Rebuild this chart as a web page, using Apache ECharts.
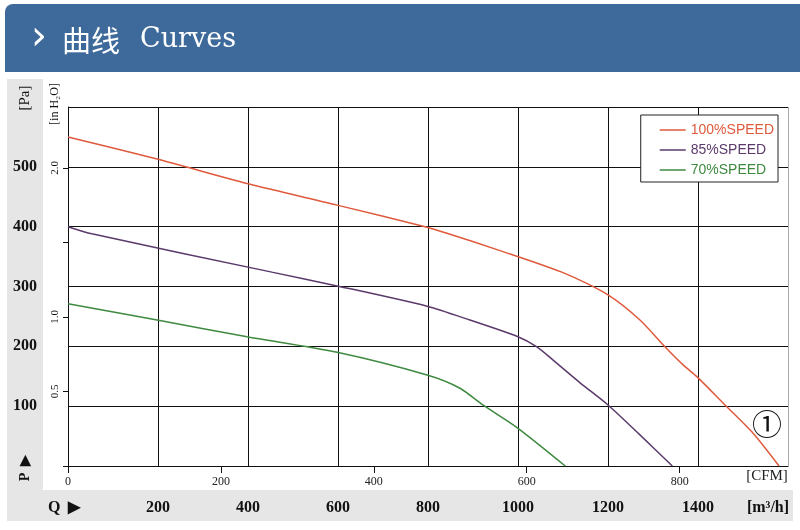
<!DOCTYPE html>
<html>
<head>
<meta charset="utf-8">
<script src="https://cdn.jsdelivr.net/npm/echarts@6/dist/echarts.min.js"></script>
<style>html,body{margin:0;padding:0;background:#fff;}#c{width:800px;height:530px;}</style>
</head>
<body>
<div id="c"></div>
<script>
// Flow in m3/h, pressure in Pa
const q100 = [0, 198, 398, 598, 798, 842, 960, 1104, 1200, 1271, 1327, 1367, 1398, 1460, 1522, 1580];
const p100 = [550, 513, 472, 436, 399, 389, 360, 322, 286, 244, 199, 169, 149, 102, 55, 0];
const q85 = [0, 53, 453, 598, 798, 893, 1000, 1042, 1078, 1138, 1200, 1271, 1343];
const p85 = [400, 388, 324, 301, 267, 244, 216, 199, 177, 139, 102, 52, 0];
const q70 = [0, 198, 398, 598, 798, 871, 922, 1000, 1105];
const p70 = [271, 244, 216, 190, 152, 130, 102, 63, 0];
const seriesNames = ['100%SPEED', '85%SPEED', '70%SPEED'];
const seriesColors = ['#df5a3c', '#5b3a6b', '#3e8a40'];
const CFM_PER_M3H = 1 / 1.69901;
const INH2O_PER_PA = 1 / 249.089;

const chart = echarts.init(document.getElementById('c'));
const zip = (a, b) => a.map((v, i) => [v, b[i]]);
const serif = 'Liberation Serif';
const blk = '#111';

chart.setOption({
  animation: false,
  backgroundColor: '#fff',
  graphic: [
    { type: 'rect', z: -10, shape: { x: 5, y: 4, width: 795, height: 68, r: [8, 0, 0, 0] }, style: { fill: '#3e6a9b' } },
    { type: 'rect', z: -10, shape: { x: 7, y: 79, width: 36, height: 412 }, style: { fill: '#e6e6e6' } },
    { type: 'rect', z: -10, shape: { x: 7, y: 490, width: 786, height: 31 }, style: { fill: '#e6e6e6' } },
    { type: 'text', x: 31, y: 39, style: { text: '›', fill: '#fff', font: '40px "DejaVu Sans"', verticalAlign: 'middle' } },
    { type: 'text', x: 62, y: 41, style: { text: '曲线', fill: '#fff', font: '29px "Noto Sans CJK SC"', verticalAlign: 'middle' } },
    { type: 'text', x: 140, y: 40, style: { text: 'Curves', fill: '#fff', font: '27px "DejaVu Serif"', verticalAlign: 'middle' } },
    { type: 'text', x: 25, y: 98, rotation: Math.PI / 2, style: { text: '[Pa]', fill: blk, font: '15px ' + serif, align: 'center', verticalAlign: 'middle' } },
    { type: 'text', x: 55, y: 104, rotation: Math.PI / 2, style: { text: '[in H₂O]', fill: blk, font: '12px ' + serif, align: 'center', verticalAlign: 'middle' } },
    { type: 'text', x: 25, y: 468, rotation: Math.PI / 2, style: { text: 'P  ▶', fill: blk, font: 'bold 14px ' + serif, align: 'center', verticalAlign: 'middle' } },
    { type: 'text', x: 48, y: 508, style: { text: 'Q  ▶', fill: blk, font: 'bold 16px ' + serif, verticalAlign: 'middle' } },
    { type: 'text', x: 767, y: 476, style: { text: '[CFM]', fill: '#222', font: '15px ' + serif, align: 'center', verticalAlign: 'middle' } },
    { type: 'text', x: 768, y: 508, style: { text: '[m³/h]', fill: blk, font: 'bold 16px ' + serif, align: 'center', verticalAlign: 'middle' } },
    { type: 'text', x: 767, y: 424, style: { text: '①', fill: blk, font: '30px "Noto Sans CJK SC"', align: 'center', verticalAlign: 'middle' } }
  ],
  legend: {
    orient: 'vertical',
    right: 22,
    top: 115,
    padding: [7, 4, 4, 19],
    itemGap: 4,
    itemWidth: 26,
    itemHeight: 1.5,
    icon: 'rect',
    backgroundColor: '#fff',
    borderColor: '#222',
    borderWidth: 1,
    borderRadius: 0,
    textStyle: { fontFamily: 'Liberation Sans', fontSize: 14, lineHeight: 16 },
    data: seriesNames.map((n, i) => ({ name: n, textStyle: { color: seriesColors[i] } }))
  },
  grid: { left: 68, top: 107, right: 12, bottom: 64 },
  xAxis: [
    {
      type: 'value', min: 0, max: 1600, interval: 200, position: 'bottom',
      axisLine: { show: true, lineStyle: { color: blk, width: 1 } },
      axisTick: { show: false },
      axisLabel: {
        margin: 34, color: blk, fontFamily: serif, fontWeight: 'bold', fontSize: 16,
        formatter: v => (v === 0 || v === 1600) ? '' : String(v)
      },
      splitLine: { show: true, lineStyle: { color: [blk, blk, blk, blk, blk, blk, blk, blk, '#aaa'], width: 1 } }
    },
    {
      type: 'value', min: 0, max: 1600 * CFM_PER_M3H, interval: 200, position: 'bottom',
      axisLine: { show: false },
      axisTick: { show: true, length: 7, lineStyle: { color: blk } },
      axisLabel: {
        margin: 10, color: '#222', fontFamily: serif, fontSize: 12, showMaxLabel: false,
        formatter: v => (v % 200 === 0) ? String(v) : ''
      },
      splitLine: { show: false }
    }
  ],
  yAxis: [
    {
      type: 'value', min: 0, max: 600, interval: 100, position: 'left',
      axisLine: { show: true, lineStyle: { color: blk, width: 1 } },
      axisTick: { show: false },
      axisLabel: {
        margin: 31, color: blk, fontFamily: serif, fontWeight: 'bold', fontSize: 16,
        formatter: v => (v === 0 || v === 600) ? '' : String(v)
      },
      splitLine: { show: true, lineStyle: { color: blk, width: 1 } }
    },
    {
      type: 'value', min: 0, max: 600 * INH2O_PER_PA, interval: 0.5, position: 'left',
      axisLine: { show: false },
      axisTick: { show: true, length: 5, lineStyle: { color: blk } },
      axisLabel: {
        rotate: 90, margin: 7, color: blk, fontFamily: serif, fontSize: 11, showMaxLabel: false,
        formatter: v => (v === 0.5 || v === 1 || v === 2) ? v.toFixed(1) : ''
      },
      splitLine: { show: false }
    }
  ],
  series: [
    { name: seriesNames[0], data: zip(q100, p100) },
    { name: seriesNames[1], data: zip(q85, p85) },
    { name: seriesNames[2], data: zip(q70, p70) }
  ].map((s, i) => ({
    type: 'line', name: s.name, data: s.data, xAxisIndex: 0, yAxisIndex: 0,
    showSymbol: false, symbol: 'none', smooth: 0.25,
    color: seriesColors[i],
    lineStyle: { color: seriesColors[i], width: 1.5 }
  }))
});
</script>
</body>
</html>
